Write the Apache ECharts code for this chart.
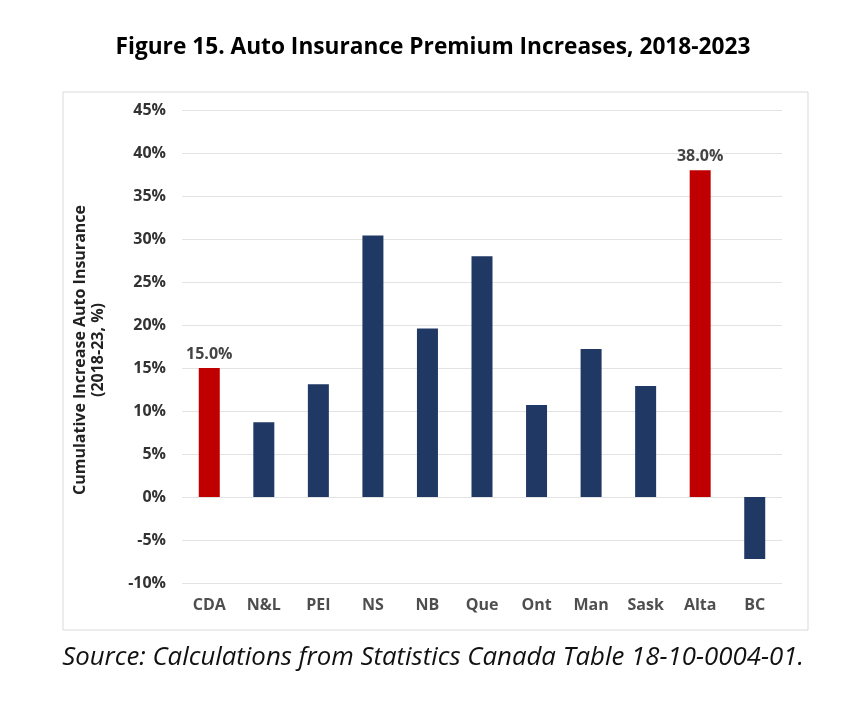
<!DOCTYPE html>
<html>
<head>
<meta charset="utf-8">
<script src="https://cdn.jsdelivr.net/npm/echarts@6/dist/echarts.min.js"></script>
<style>
  html, body { margin: 0; padding: 0; background: #fff; }
  #chart { width: 866px; height: 718px; }
</style>
</head>
<body>
<div id="chart"></div>
<script>
// provinces, cumulative increase 2018-23 (%)
const provinces = ['CDA', 'N&L', 'PEI', 'NS', 'NB', 'Que', 'Ont', 'Man', 'Sask', 'Alta', 'BC'];
const increases = [15.0, 8.7, 13.1, 30.4, 19.6, 28.0, 10.7, 17.2, 12.9, 38.0, -7.2];
// bars drawn in red and labelled
const highlighted = ['CDA', 'Alta'];

const NAVY = '#203864';
const RED = '#C00000';
const FONT = 'Open Sans';

const myChart = echarts.init(document.getElementById('chart'));

const option = {
  animation: false,
  textStyle: { fontFamily: FONT },
  title: [
    {
      text: 'Figure 15. Auto Insurance Premium Increases, 2018-2023',
      left: 'center',
      top: 31,
      textStyle: { fontSize: 22.7, fontWeight: 'bold', color: '#000', fontFamily: FONT },
    },
    {
      text: 'Source: Calculations from Statistics Canada Table 18-10-0004-01.',
      left: 'center',
      top: 640,
      textStyle: { fontSize: 25.8, fontStyle: 'italic', fontWeight: 'normal', color: '#111', fontFamily: FONT },
    },
  ],
  graphic: [
    {
      type: 'rect',
      shape: { x: 63, y: 92, width: 745, height: 538 },
      style: { fill: 'none', stroke: '#d9d9d9', lineWidth: 1 },
      silent: true,
    },
    {
      type: 'text',
      rotation: Math.PI / 2,
      style: {
        text: 'Cumulative Increase Auto Insurance\n(2018-23, %)',
        align: 'center',
        verticalAlign: 'middle',
        fontSize: 16,
        fontWeight: 'bold',
        lineHeight: 18,
        fill: '#222',
        fontFamily: FONT,
      },
      x: 89,
      y: 350,
    },
  ],
  grid: { left: 182, right: 84, top: 110, bottom: 135 },
  xAxis: {
    type: 'category',
    data: provinces,
    axisLine: { show: false },
    axisTick: { show: false },
    axisLabel: { show: false },
  },
  yAxis: {
    type: 'value',
    min: -10,
    max: 45,
    interval: 5,
    axisLine: { show: false },
    axisTick: { show: false },
    axisLabel: {
      formatter: '{value}%',
      fontSize: 16,
      fontWeight: 'bold',
      color: '#333',
      margin: 16,
    },
    splitLine: { lineStyle: { color: '#e3e3e3', width: 1 } },
  },
  series: [
    {
      type: 'bar',
      barWidth: 21,
      data: increases.map((v, i) => ({
        value: v,
        itemStyle: { color: highlighted.includes(provinces[i]) ? RED : NAVY },
        label: {
          show: highlighted.includes(provinces[i]),
          position: 'top',
          distance: 6,
          formatter: p => p.value.toFixed(1) + '%',
          fontSize: 16,
          color: '#444',
          fontWeight: 'bold',
        },
      })),
    },
    {
      // category labels along the bottom of the plot
      type: 'scatter',
      symbolSize: 0,
      silent: true,
      data: provinces.map(p => [p, -10]),
      label: {
        show: true,
        position: 'bottom',
        distance: 14,
        formatter: p => p.value[0],
        fontSize: 16,
        fontWeight: 'bold',
        color: '#222',
      },
    },
  ],
};

myChart.setOption(option, true);
</script>
</body>
</html>
